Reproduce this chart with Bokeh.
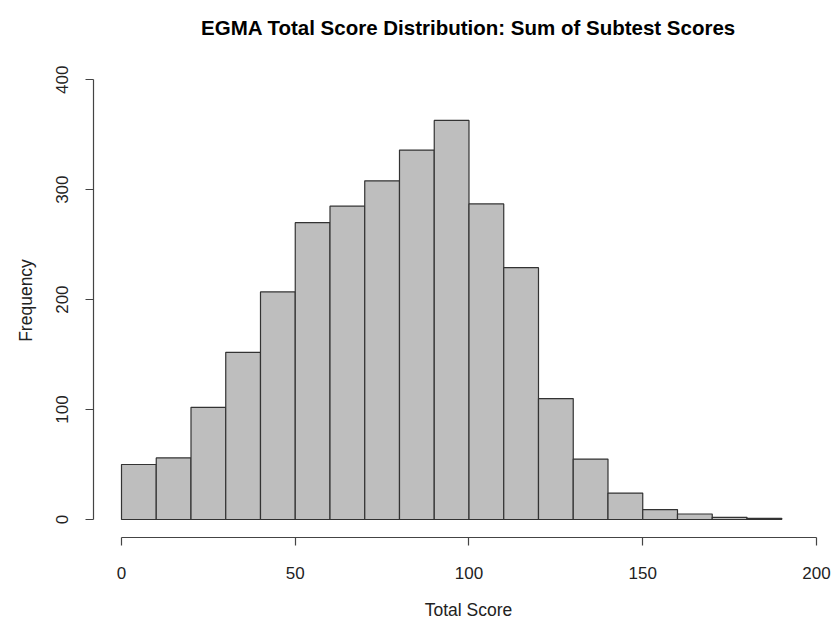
import math
from bokeh.plotting import figure
from bokeh.models import FixedTicker, Range1d, Label
from bokeh.embed import file_html
from bokeh.resources import INLINE

# Histogram data (bin edges of width 10)
bin_left = [0, 10, 20, 30, 40, 50, 60, 70, 80, 90, 100, 110, 120, 130, 140, 150, 160, 170, 180]
bin_right = [10, 20, 30, 40, 50, 60, 70, 80, 90, 100, 110, 120, 130, 140, 150, 160, 170, 180, 190]
counts = [50, 56, 102, 152, 207, 270, 285, 308, 336, 363, 287, 229, 110, 55, 24, 9, 5, 2, 1]

x_ticks = [0, 50, 100, 150, 200]
y_ticks = [0, 100, 200, 300, 400]

title_text = "EGMA Total Score Distribution: Sum of Subtest Scores"
x_label = "Total Score"
y_label = "Frequency"

FONT = "Liberation Sans"

# The frame covers the whole canvas; R-style detached axes are drawn at fixed locations.
p = figure(
    width=840, height=624,
    output_backend="svg", toolbar_location=None,
    x_range=Range1d(-34.82, 206.91), y_range=Range1d(-95.5, 472.03),
    min_border_left=0, min_border_right=0, min_border_top=0, min_border_bottom=0,
)

p.quad(left=bin_left, right=bin_right, bottom=0, top=counts,
       fill_color="#BEBEBE", line_color="#333333", line_width=1.2)

p.outline_line_color = None
p.xgrid.visible = False
p.ygrid.visible = False
p.background_fill_color = "white"
p.border_fill_color = "white"

p.add_layout(Label(x=99.86, y=447.5, text=title_text,
                   text_align="center", text_baseline="alphabetic",
                   text_font=FONT, text_font_size="20.5px", text_font_style="bold",
                   text_color="black"))
p.add_layout(Label(x=99.86, y=-82.0, text=x_label,
                   text_align="center", text_baseline="alphabetic",
                   text_font=FONT, text_font_size="17.5px", text_color="#222222"))
p.add_layout(Label(x=-27.34, y=199.2, text=y_label, angle=math.pi / 2,
                   text_align="center", text_baseline="alphabetic",
                   text_font=FONT, text_font_size="17.5px", text_color="#222222"))

p.xaxis.fixed_location = -16
p.yaxis.fixed_location = -8.06

for ax, ticks, bounds in ((p.xaxis[0], x_ticks, (0, 200)), (p.yaxis[0], y_ticks, (0, 400))):
    ax.ticker = FixedTicker(ticks=ticks)
    ax.bounds = bounds
    ax.minor_tick_line_color = None
    ax.major_tick_in = 0
    ax.major_tick_out = 8
    ax.axis_line_color = "#444444"
    ax.axis_line_width = 1.2
    ax.major_tick_line_color = "#444444"
    ax.major_tick_line_width = 1.2
    ax.major_label_text_font = FONT
    ax.major_label_text_font_size = "17px"
    ax.major_label_text_color = "#222222"

p.xaxis.major_label_standoff = 22
p.yaxis.major_label_standoff = 17
p.yaxis.major_label_orientation = "vertical"

open("out.html", "w").write(file_html(p, INLINE))
